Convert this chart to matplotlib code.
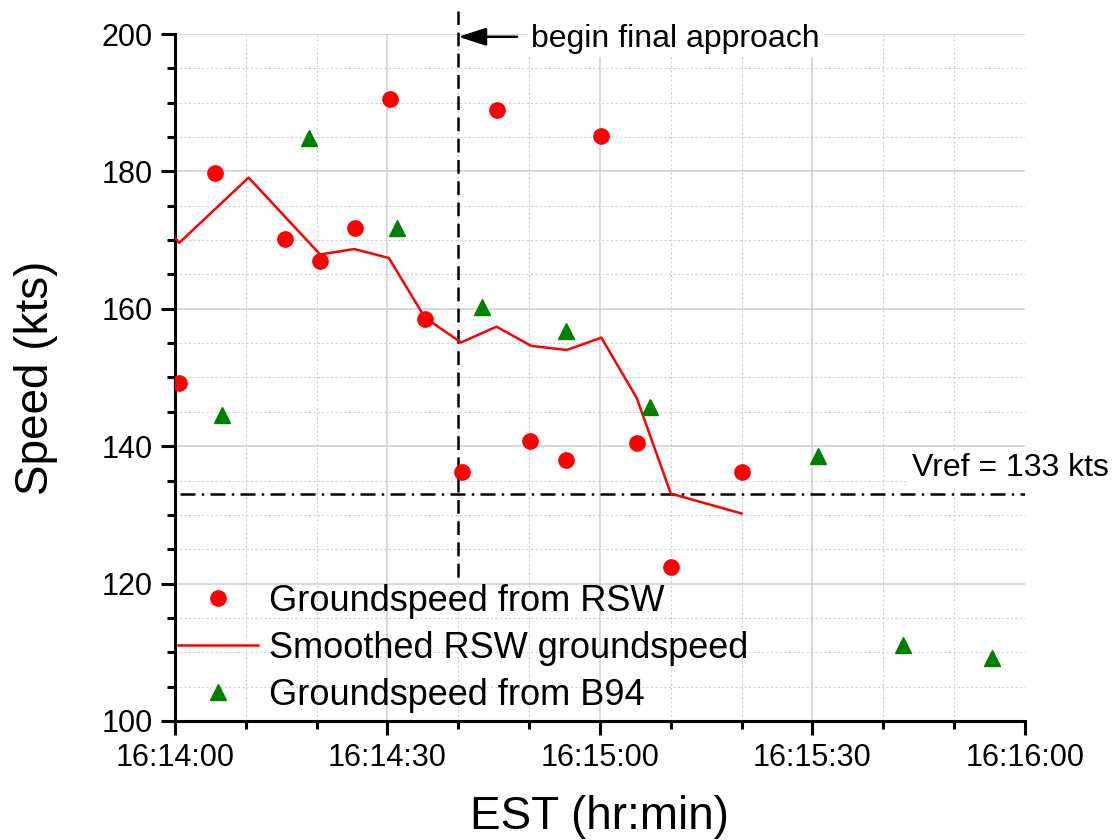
#!/usr/bin/env python3

import matplotlib
matplotlib.use('Agg')
import matplotlib.pyplot as plt
from matplotlib.ticker import MultipleLocator

# seconds after 16:14:00
rsw_t = [0.6, 5.7, 15.6, 20.5, 25.4, 30.4, 35.3, 40.5, 45.4, 50.1, 55.2, 60.2, 65.2, 70.0, 80.0]
rsw_v = [149.2, 179.7, 170.1, 167.0, 171.8, 190.5, 158.5, 136.3, 188.9, 140.8, 138.0, 185.2, 140.5, 122.4, 136.3]

smooth_t = [0, 0.6, 10.4, 20.5, 25.3, 30.2, 35.3, 40.4, 45.4, 50.3, 55.3, 60.2, 65.2, 70.0, 80.0]
smooth_v = [170.4, 169.6, 179.1, 167.9, 168.7, 167.4, 158.7, 155.1, 157.4, 154.6, 154.0, 155.8, 147.0, 133.1, 130.2]

b94_t = [6.7, 18.9, 31.3, 43.3, 55.2, 67.1, 90.8, 102.8, 115.3]
b94_v = [144.6, 184.8, 171.7, 160.3, 156.8, 145.7, 138.6, 111.1, 109.2]

xtick_pos = [0, 30, 60, 90, 120]
xtick_labels = ['16:14:00', '16:14:30', '16:15:00', '16:15:30', '16:16:00']

vref = 133
final_approach_t = 40


def main():
    plt.rcParams['font.family'] = ['Liberation Sans', 'DejaVu Sans']

    fig = plt.figure(figsize=(11.13, 8.4), dpi=100)
    ax = fig.add_axes([0.1572, 0.1417, 0.7637, 0.8178])

    # grid
    ax.xaxis.set_major_locator(MultipleLocator(30))
    ax.xaxis.set_minor_locator(MultipleLocator(10))
    ax.yaxis.set_major_locator(MultipleLocator(20))
    ax.yaxis.set_minor_locator(MultipleLocator(5))
    ax.grid(which='major', color='#cfcfcf', linewidth=1.1, zorder=0)
    ax.grid(which='minor', color='#cfcfcf', linewidth=0.8, linestyle=(0, (2, 2)), zorder=0)
    ax.set_axisbelow(True)

    # reference lines
    ax.plot([0.7, 120], [vref, vref], color='black', linewidth=1.8,
            linestyle=(0, (6, 2.5, 1, 2.5)), zorder=2)
    ax.plot([final_approach_t, final_approach_t], [120.9, 203.3], color='black',
            linewidth=1.8, linestyle=(0, (5.5, 3)), clip_on=False, zorder=2)

    # data
    ax.plot(rsw_t, rsw_v, linestyle='none', marker='o', markersize=11,
            color='#ff0000', label='Groundspeed from RSW', zorder=3)
    ax.plot(smooth_t, smooth_v, color='#ff0000', linewidth=1.8,
            label='Smoothed RSW groundspeed', zorder=3)
    ax.plot(b94_t, b94_v, linestyle='none', marker='^', markersize=12,
            color='#008000', label='Groundspeed from B94', zorder=3)

    # annotations
    ax.annotate('', xy=(final_approach_t, 199.6), xytext=(48.3, 199.6),
                arrowprops=dict(arrowstyle='-|>,head_length=1.7,head_width=0.55',
                                color='black', lw=1.8, shrinkA=0, shrinkB=0),
                annotation_clip=False, zorder=4)
    ax.text(50.2, 198.1, 'begin final approach', fontsize=23, va='baseline',
            ha='left', bbox=dict(facecolor='white', edgecolor='none', pad=2), zorder=4)
    ax.text(104.0, 135.6, 'Vref = 133 kts', fontsize=23, va='baseline',
            ha='left', bbox=dict(facecolor='white', edgecolor='none', pad=2),
            clip_on=False, zorder=4)

    ax.set_xlim(0, 120)
    ax.set_ylim(100, 200)
    ax.set_xticks(xtick_pos)
    ax.set_xticklabels(xtick_labels)

    # no gridlines on the outer edges
    ax.yaxis.get_gridlines()[-1].set_visible(False)
    ax.xaxis.get_gridlines()[-1].set_visible(False)

    for side in ['top', 'right']:
        ax.spines[side].set_visible(False)
    for side in ['left', 'bottom']:
        ax.spines[side].set_linewidth(2.2)
    ax.tick_params(which='major', length=10, width=2.2, labelsize=22, pad=6)
    ax.tick_params(which='minor', length=6, width=2.2)

    ax.set_xlabel('EST (hr:min)', fontsize=33, labelpad=16)
    ax.set_ylabel('Speed (kts)', fontsize=33, labelpad=31)

    ax.legend(loc='lower left', bbox_to_anchor=(0.004, 0.012), frameon=False,
              fontsize=26, borderpad=0, borderaxespad=0, labelspacing=0.33,
              handlelength=2.2, handletextpad=0.3, numpoints=1)

    plt.savefig('out.png', dpi=100)


if __name__ == "__main__":
    main()
